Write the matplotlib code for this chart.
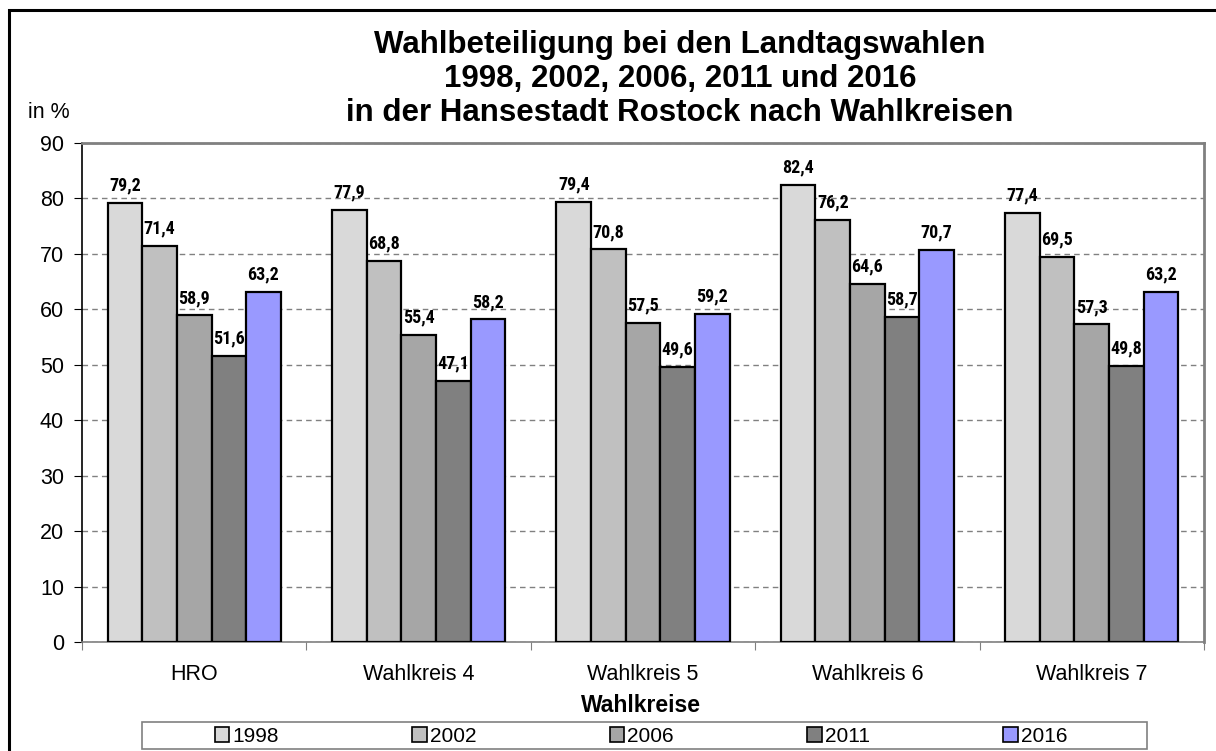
import matplotlib
matplotlib.use("Agg")
import matplotlib.pyplot as plt
from matplotlib.patches import Rectangle
from matplotlib import font_manager as fm
import numpy as np

categories = ["HRO", "Wahlkreis 4", "Wahlkreis 5", "Wahlkreis 6", "Wahlkreis 7"]
years = ["1998", "2002", "2006", "2011", "2016"]
v1998 = [79.2, 77.9, 79.4, 82.4, 77.4]
v2002 = [71.4, 68.8, 70.8, 76.2, 69.5]
v2006 = [58.9, 55.4, 57.5, 64.6, 57.3]
v2011 = [51.6, 47.1, 49.6, 58.7, 49.8]
v2016 = [63.2, 58.2, 59.2, 70.7, 63.2]
series = [v1998, v2002, v2006, v2011, v2016]
colors = ["#D9D9D9", "#C0C0C0", "#A6A6A6", "#808080", "#9999FF"]

plt.rcParams['font.family'] = ['Liberation Sans', 'DejaVu Sans']
available = {f.name for f in fm.fontManager.ttflist}
narrow = dict(family=["DejaVu Sans"], fontstretch="condensed")
for cand in ["Liberation Sans Narrow", "Arimo Narrow", "Roboto Condensed",
             "Fira Sans Condensed", "Archivo Narrow", "Asap Condensed"]:
    if cand in available:
        narrow = dict(family=[cand, "DejaVu Sans"])
        break

W, H = 1216, 751
fig = plt.figure(figsize=(W / 100, H / 100), dpi=100)
ax = fig.add_axes([82 / W, (H - 642) / H, (1204 - 82) / W, (642 - 143) / H])

# outer frame (left/top visible)
fig.add_artist(Rectangle((9 / W, -0.1), 1.2, (H - 10) / H + 0.1, transform=fig.transFigure,
                         fill=False, edgecolor="black", linewidth=2.2, clip_on=False))

x = np.arange(len(categories))
bw = 0.771 / 5
for i, (vals, col, yr) in enumerate(zip(series, colors, years)):
    pos = x - 2 * bw + i * bw
    ax.bar(pos, vals, width=bw, color=col, edgecolor="black", linewidth=1.6,
           label=yr, zorder=3)
    for p, v in zip(pos, vals):
        ax.text(p, v + 1.5, f"{v:.1f}".replace(".", ","), ha="center", va="bottom",
                fontsize=13, fontweight="bold", **narrow)

ax.set_xlim(-0.5, 4.5)
ax.set_ylim(0, 90)
ax.set_yticks(np.arange(0, 91, 10))
ax.yaxis.grid(True, linestyle=(0, (4, 3)), color="#808080", linewidth=1.0, zorder=0)
ax.set_axisbelow(True)
ax.set_xticks(np.arange(-0.5, 4.6, 1.0))
ax.set_xticklabels([])
ax.set_xticks(x, minor=True)
ax.set_xticklabels(categories, minor=True, fontsize=15.5)
ax.tick_params(axis="x", which="minor", length=0, pad=16)
ax.tick_params(axis="x", which="major", length=6, direction="out", color="#808080")
ax.tick_params(axis="y", length=6, direction="out", labelsize=15.5, pad=7)
ax.spines["left"].set_color("black")
ax.spines["left"].set_linewidth(1.2)
ax.spines["bottom"].set_color("#808080")
ax.spines["bottom"].set_linewidth(1.2)
for s in ["top", "right"]:
    ax.spines[s].set_color("#808080")
    ax.spines[s].set_linewidth(2.0)

title_lines = ["Wahlbeteiligung bei den Landtagswahlen",
               "1998, 2002, 2006, 2011 und 2016",
               "in der Hansestadt Rostock nach Wahlkreisen"]
for line, yy in zip(title_lines, [45, 79, 113]):
    fig.text(680 / W, 1 - yy / H, line, ha="center", va="center", fontsize=22.5,
             fontweight="bold")
fig.text(28 / W, 1 - 113 / H, "in %", ha="left", va="center", fontsize=15.5)
fig.text(641 / W, 1 - 706 / H, "Wahlkreise", ha="center", va="center", fontsize=16.5,
         fontweight="bold")

# legend box
fig.add_artist(Rectangle((142 / W, (H - 749) / H), (1147 - 142) / W, 27 / H,
                         transform=fig.transFigure, fill=False, edgecolor="#808080",
                         linewidth=1.2))
handles, labels = ax.get_legend_handles_labels()
leg = fig.legend(handles, labels, loc="center", bbox_to_anchor=(641 / W, 1 - 736 / H),
                 ncol=5, frameon=False, fontsize=15, handlelength=0.7, handleheight=0.7,
                 handletextpad=0.15, columnspacing=6.4, borderpad=0)
for h in leg.legend_handles:
    h.set_linewidth(1.2)

fig.savefig("out.png", dpi=100)
